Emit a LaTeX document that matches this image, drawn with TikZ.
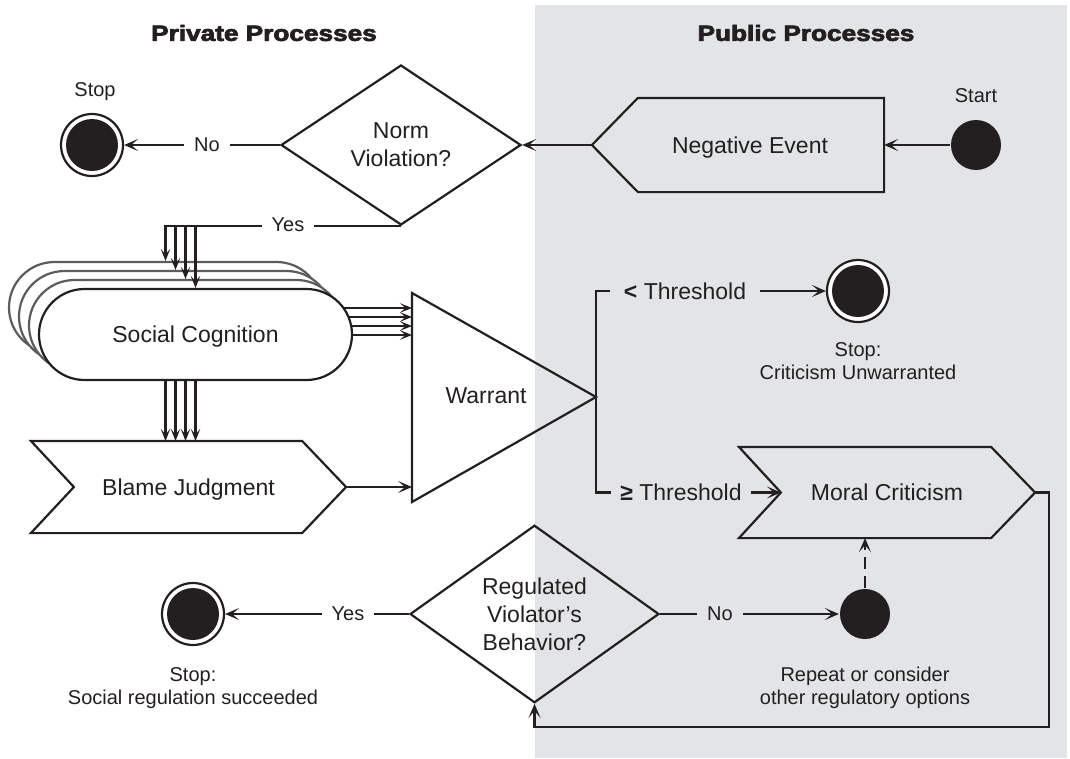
\documentclass[tikz,border=0pt]{standalone}
\usepackage{fontspec}
\setmainfont{Liberation Sans}
\newfontfamily\titlefont{Liberation Sans Bold}[FakeBold=3]
\usetikzlibrary{arrows.meta,calc,shapes.geometric,shapes.misc}
\definecolor{ink}{HTML}{231F20}
\definecolor{pubgray}{HTML}{E3E4E6}
\definecolor{stackgray}{HTML}{5C5C5C}

\begin{document}
\begin{tikzpicture}[x=1pt,y=-1pt, line width=2.2pt, draw=ink, text=ink,
  arr/.style={-{Stealth[length=14pt,width=12pt,inset=7pt]}},
  sarr/.style={-{Stealth[length=12pt,width=9.5pt,inset=5.5pt]}},
  lbl/.style={font=\fontsize{20}{23}\selectfont, align=center, inner sep=0pt, text depth=0pt},
  big/.style={font=\fontsize{23}{28}\selectfont, align=center, text depth=0pt},
  gaplbl/.style={lbl, inner xsep=10pt, inner ysep=3pt, fill=#1},
  gaplbl/.default=white,
  biglbl/.style={big, inner xsep=14pt, inner ysep=3pt, fill=pubgray},
  heading/.style={font=\titlefont\fontsize{22}{26}\selectfont},
  stopnode/.style={circle, draw=ink, fill=white, line width=2.2pt, minimum size=62pt, inner sep=0pt,
    path picture={\fill[ink] (path picture bounding box.center) circle (26pt);}},
  dot/.style={circle, fill=ink, minimum size=50pt, inner sep=0pt},
  stadium/.style={rounded rectangle, minimum width=313pt, minimum height=91pt, inner sep=0pt, fill=white},
  decision/.style={diamond, draw=ink, big, inner sep=0pt},
  box/.style={big, inner sep=0pt}]

\useasboundingbox (0,0) rectangle (1070,758);
% public side band
\fill[pubgray] (535,5) rectangle (1067,758);

% headings
\node[heading] (hpriv) at (264,33) {\scalebox{1.19}[1]{Private Processes}};
\node[heading] (hpub) at (806,33) {\scalebox{1.19}[1]{Public Processes}};

% start and first decision
\node[dot] (start) at (976,145) {};
\node[lbl] (startlbl) at (976,96) {Start};
\node[box, minimum width=290pt, minimum height=92pt] (negev) at (738,145) {\hspace*{24pt}Negative Event};
\draw (negev.west) -- ([xshift=46pt]negev.north west) -- (negev.north east)
      -- (negev.south east) -- ([xshift=46pt]negev.south west) -- cycle;
\node[decision, minimum width=240pt, minimum height=160pt] (norm) at (401,145) {Norm\\Violation?};
\node[stopnode] (stop1) at (92,145) {};
\node[lbl] (stop1lbl) at (95,90) {Stop};

\draw[arr] (start.west) -- (negev.east);
\draw[arr] (negev.west) -- (norm.east);
\draw[arr] (norm.west) -- (stop1.east);
\node[gaplbl] (nolbl1) at (207,145) {No};

% stacked social cognition
\foreach \i in {3,2,1}
  \node[stadium, draw=stackgray] (sc\i) at ({195.5-10*\i},{334.5-9*\i}) {};
\node[stadium, draw=ink, big] (sc0) at (195.5,334.5) {Social Cognition};

\draw[sarr] (norm.south) -| (sc3.north);
\foreach \i in {0,1,2}
  \draw[sarr] (sc\i.north |- norm.south) -- (sc\i.north);
\node[gaplbl] (yeslbl1) at (288,225) {Yes};

% blame judgment
\node[box, minimum width=313pt, minimum height=90pt] (blame) at (188.5,487) {Blame Judgment};
\draw (blame.north west) -- ([xshift=-44pt]blame.north east) -- (blame.east)
      -- ([xshift=-44pt]blame.south east) -- (blame.south west) -- ([xshift=43pt]blame.west) -- cycle;
\foreach \dx [count=\k] in {-30,-20,-10,0} {
  \coordinate (down\k) at ([xshift=\dx pt]sc0.south);
  \draw[sarr] (down\k) -- (down\k |- blame.north);
}

% warrant
\coordinate (wtop) at (412,293);
\coordinate (wbot) at (412,502);
\coordinate (wapex) at (596,397);
\draw (wtop) -- (wapex) -- (wbot) -- cycle;
\node[box] (war) at (486,396) {Warrant};

\foreach \dx/\dy [count=\k] in {148/-26.5, 153/-17.5, 155.7/-8.5, 156.5/0.5} {
  \coordinate (sc\k out) at ($(sc0.center)+(\dx,\dy)$);
  \draw[sarr] (sc\k out) -- (wtop |- sc\k out);
}
\draw[arr] (blame.east) -- (wtop |- blame.east);

% threshold outcomes
\node[stopnode] (stop2) at (858,291) {};
\node[lbl] (stop2lbl) at (858,361.5) {Stop:\\Criticism Unwarranted};

\node[box, minimum width=294pt, minimum height=89pt] (moral) at (887,492.5) {Moral Criticism};
\coordinate (mnotch) at ([xshift=42pt]moral.west);
\draw (moral.north west) -- ([xshift=-44pt]moral.north east) -- (moral.east)
      -- ([xshift=-44pt]moral.south east) -- (moral.south west) -- (mnotch) -- cycle;

\draw[arr] (wapex) |- (stop2.west);
\draw[arr] (wapex) |- (mnotch);
\node[biglbl] (ltlbl) at (685,291) {\textbf{<} Threshold};
\node[biglbl, inner xsep=9pt] (gelbl) at (681,492) {\textbf{≥} Threshold};

% regulation check
\node[decision, minimum width=249pt, minimum height=168pt] (reg) at (534.5,614) {Regulated\\Violator’s\\Behavior?};
\node[stopnode] (stop3) at (193,614) {};
\node[lbl] (stop3lbl) at (193,686) {Stop:\\Social regulation succeeded};
\node[dot] (rep) at (865,614) {};
\node[lbl] (replbl) at (865,686) {Repeat or consider\\other regulatory options};

\coordinate (fbc) at (1049,727);
\draw[arr] (moral.east) -| (fbc) -| (reg.south);
\draw[arr] (reg.west) -- (stop3.east);
\node[gaplbl] (yeslbl2) at (348,614) {Yes};
\draw[arr] (reg.east) -- (rep.west);
\node[gaplbl=pubgray] (nolbl2) at (720,614) {No};
\draw[arr, dash pattern=on 12pt off 7pt] (rep.north) -- (rep.north |- moral.south);

\end{tikzpicture}
\end{document}
